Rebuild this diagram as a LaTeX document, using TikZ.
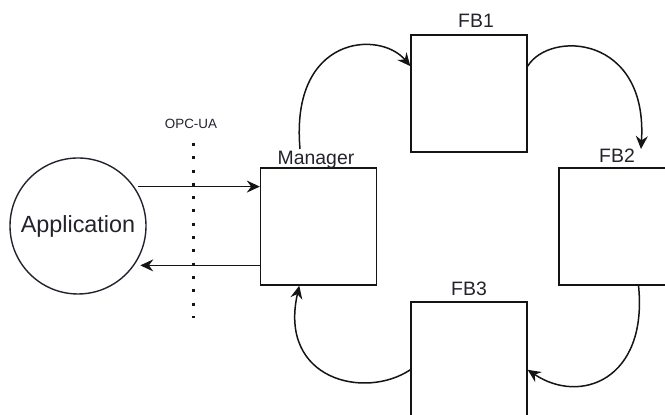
\documentclass[tikz,border=0pt]{standalone}
\usepackage{fontspec}
\setmainfont{Liberation Sans}
\usetikzlibrary{calc, positioning, arrows.meta}
\definecolor{linecol}  {RGB}{20,  20,  20}
\definecolor{labeltext}{RGB}{35,  35,  45}
\tikzset{
  block/.style={draw=linecol, line width=0.7pt, minimum width=58pt,
    minimum height=58.5pt, inner sep=0pt},
  blocklabel/.style={labeltext, font=\fontsize{9.7}{11}\selectfont,
    inner sep=0pt, anchor=base},
  flow/.style={draw=linecol, line width=0.75pt,
    -{Stealth[length=6.5pt, width=6pt, inset=2.2pt]}},
}

\begin{document}
\begin{tikzpicture}[x=0.5pt, y=-0.5pt]
  \useasboundingbox (0,0) rectangle (665,415);
  \clip (0,0) rectangle (665,415);
  \node[circle, draw=linecol, line width=0.7pt, minimum size=68pt,
        inner sep=0pt, labeltext, font=\fontsize{11.7}{14}\selectfont]
       (app) at (78,226) {Application};
  \node[block] (mgr) at (318.5,226.5) {};
  \node[block] (fb1) at (469,93.5) {};
  \node[block] (fb2) at (617,226.5) {};
  \node[block] (fb3) at (469,360.5) {};
  \node[blocklabel] (mgrlbl) at (316,165) {Manager};
  \node[blocklabel] (fb1lbl) at (476,28) {FB1};
  \node[blocklabel] (fb2lbl) at (617,163) {FB2};
  \node[blocklabel] (fb3lbl) at (469,296) {FB3};
  \node[labeltext, font=\fontsize{6.7}{8}\selectfont, inner sep=0pt,
        anchor=base] (opc) at (191,129) {OPC-UA};
  \coordinate (opctop) at (193,143);
  \coordinate (opcbot) at (193,318);
  \draw[linecol, line width=1.5pt, dash pattern=on 1.5pt off 5.15pt]
       (opctop) -- (opcbot);
  \draw[flow, shorten <=2pt] (app.35) -- (app.35 -| mgr.west);
  \draw[flow, shorten >=3pt] (app.-35 -| mgr.west) -- (app.-35);
  \coordinate (mgrout) at (300,149);
  \coordinate (fb2in) at (641,149);
  \draw[flow] (mgrout) .. controls (290,35) and (380,30) .. (fb1.155);
  \draw[flow] (fb1.25) .. controls (550,30) and (648,35) .. (fb2in);
  \draw[flow] (fb2.-70) .. controls (648,380) and (580,405) .. (fb3.-9);
  \draw[flow] (fb3.189) .. controls (365,400) and (278,380) .. (mgr.-108);
\end{tikzpicture}
\end{document}
